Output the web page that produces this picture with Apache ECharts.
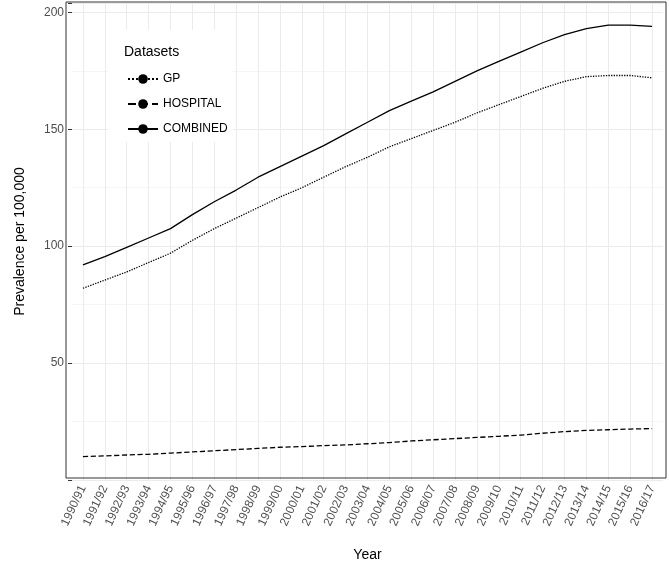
<!DOCTYPE html>
<html><head><meta charset="utf-8">
<script src="https://cdn.jsdelivr.net/npm/echarts@6/dist/echarts.min.js"></script>
<style>html,body{margin:0;padding:0;background:#fff}#c{width:669px;height:567px}</style>
</head><body><div id="c"></div>
<script>
const years = ["1990/91","1991/92","1992/93","1993/94","1994/95","1995/96","1996/97","1997/98","1998/99","1999/00","2000/01","2001/02","2002/03","2003/04","2004/05","2005/06","2006/07","2007/08","2008/09","2009/10","2010/11","2011/12","2012/13","2013/14","2014/15","2015/16","2016/17"];
const gp = [82,85.5,89,93,97,102.5,107.5,112,116.5,121,125,129.5,134,138,142.5,146,149.5,153,157,160.5,164,167.5,170.5,172.5,173,173,172];
const hospital = [10,10.3,10.7,11,11.5,12,12.5,13,13.5,14,14.3,14.7,15,15.5,16,16.7,17.2,17.7,18.2,18.7,19.2,20,20.7,21.2,21.5,21.8,22];
const combined = [92,95.5,99.5,103.5,107.5,113.5,119,124,129.5,134,138.5,143,148,153,158,162,166,170.5,175,179,183,187,190.5,193,194.5,194.5,194];
const yTicks = [50,100,150,200];

const chart = echarts.init(document.getElementById('c'));
const mk = (name, data, type) => ({name, type:'line', data, symbol:'none', z:5,
  lineStyle:{color:'#000', width:1.3, type}, itemStyle:{color:'#000'}});
chart.setOption({
  animation:false,
  textStyle:{fontFamily:'Liberation Sans, Arial, sans-serif'},
  grid:{left:72, right:6, top:3, bottom:87},
  graphic:[
    {type:'rect', shape:{x:66,y:2,width:600,height:476}, style:{fill:'none', stroke:'#333', lineWidth:1}, z:100},
    {type:'rect', shape:{x:108,y:30,width:125,height:112}, style:{fill:'#fff'}, z:50},
    {type:'text', left:124, top:45, style:{text:'Datasets', fontSize:14, fill:'#000', fontFamily:'Liberation Sans, Arial'}, z:60}
  ],
  legend:{orient:'vertical', left:122, top:68, itemWidth:30, itemHeight:12, itemGap:13, z:60,
    textStyle:{fontSize:12, color:'#000'},
    data:['GP','HOSPITAL','COMBINED']},
  xAxis:{type:'category', data:years, boundaryGap:true, name:'Year', nameLocation:'middle', nameGap:68,
    nameTextStyle:{fontSize:14, color:'#000'},
    axisLine:{show:false}, axisTick:{alignWithLabel:true, length:4, lineStyle:{color:'#333'}},
    axisLabel:{rotate:65, fontSize:12, color:'#4d4d4d', interval:0, margin:6},
    splitLine:{show:false}},
  yAxis:{type:'value', min:0, max:204, interval:50, name:'Prevalence per 100,000', nameLocation:'middle', nameGap:45,
    nameTextStyle:{fontSize:14, color:'#000'},
    axisLine:{show:false}, axisTick:{show:true, length:4, lineStyle:{color:'#333'}},
    axisLabel:{fontSize:12, color:'#4d4d4d', formatter:v=>yTicks.includes(v)?String(v):''},
    splitLine:{lineStyle:{color:'#ebebeb'}},
    minorTick:{show:false, splitNumber:2}, minorSplitLine:{show:true, lineStyle:{color:'#f5f5f5'}}},
  series:[
    {type:'line', data:[], silent:true, z:1,
     markLine:{silent:true, symbol:'none', label:{show:false}, animation:false,
       lineStyle:{color:'#ebebeb', type:'solid', width:1},
       data: years.map(y=>({xAxis:y}))}},
    mk('GP',gp,'dotted'), mk('HOSPITAL',hospital,'dashed'), mk('COMBINED',combined,'solid')]
});
</script></body></html>
